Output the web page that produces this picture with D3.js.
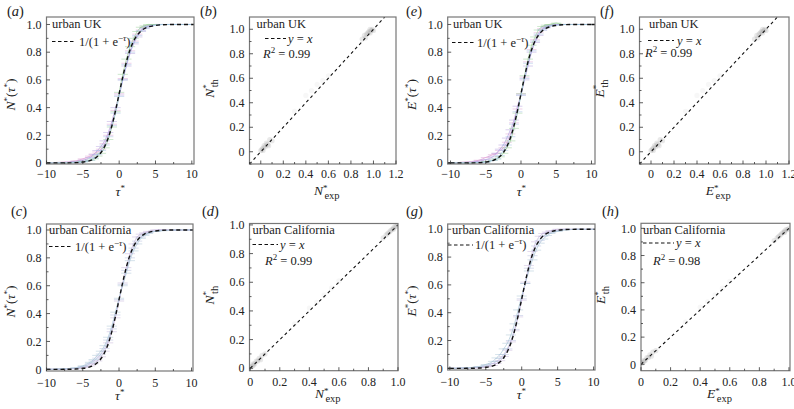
<!DOCTYPE html>
<html><head><meta charset="utf-8">
<script src="https://cdn.jsdelivr.net/npm/d3@7"></script>
<style>body{margin:0;background:#fff}svg{display:block}</style>
</head><body><svg id="c" width="794" height="409"></svg>
<script>
// ---------- data ----------
const tauGrid = [-10,-8,-6,-5,-4,-3.5,-3,-2.5,-2,-1.5,-1,-0.5,0,0.5,1,1.5,2,2.5,3,3.5,4,5,6,8,10];
const logisticVals = [0.000,0.000,0.002,0.007,0.018,0.029,0.047,0.076,0.119,0.182,0.269,0.378,0.500,0.622,0.731,0.818,0.881,0.924,0.953,0.971,0.982,0.993,0.998,1.000,1.000];

const ukN_pink   = [0.00,0.005,0.015,0.03,0.05,0.065,0.08,0.10,0.14,0.20,0.28,0.38,0.50,0.61,0.72,0.81,0.88,0.93,0.96,0.98,0.99,1.00,1.00,1.00,1.00];
const ukN_purple = [0.00,0.003,0.01,0.02,0.04,0.06,0.09,0.12,0.16,0.22,0.30,0.40,0.49,0.60,0.70,0.79,0.86,0.91,0.95,0.975,0.99,1.00,1.00,1.00,1.00];
const ukN_green  = [0.00,0.00,0.005,0.01,0.02,0.03,0.05,0.07,0.11,0.17,0.26,0.37,0.51,0.64,0.75,0.84,0.90,0.95,0.98,0.99,1.00,1.00,1.00,1.00,1.00];
const ukN_blue   = [0.00,0.00,0.003,0.008,0.02,0.035,0.06,0.09,0.13,0.19,0.27,0.36,0.48,0.60,0.71,0.80,0.87,0.92,0.955,0.97,0.985,0.995,1.00,1.00,1.00];

const ukE_pink   = [0.00,0.006,0.02,0.04,0.06,0.07,0.09,0.11,0.15,0.21,0.29,0.39,0.50,0.62,0.73,0.82,0.89,0.94,0.97,0.985,0.995,1.00,1.00,1.00,1.00];
const ukE_purple = [0.00,0.004,0.012,0.025,0.045,0.07,0.10,0.13,0.18,0.24,0.31,0.41,0.49,0.60,0.70,0.80,0.87,0.92,0.96,0.98,0.99,1.00,1.00,1.00,1.00];
const ukE_green  = [0.00,0.00,0.004,0.01,0.02,0.03,0.045,0.07,0.11,0.16,0.25,0.36,0.50,0.63,0.75,0.85,0.91,0.96,0.985,0.995,1.00,1.01,1.00,1.00,1.00];
const ukE_blue   = [0.00,0.00,0.003,0.007,0.018,0.03,0.055,0.09,0.13,0.19,0.28,0.37,0.49,0.61,0.72,0.81,0.88,0.93,0.96,0.975,0.99,0.995,1.00,1.00,1.00];

const caN_a = [0.00,0.002,0.008,0.02,0.04,0.06,0.08,0.11,0.15,0.21,0.29,0.39,0.50,0.61,0.71,0.80,0.87,0.92,0.95,0.97,0.98,0.99,1.00,1.00,1.00];
const caN_b = [0.00,0.001,0.005,0.012,0.025,0.04,0.06,0.09,0.13,0.19,0.27,0.37,0.49,0.62,0.73,0.83,0.90,0.95,0.97,0.98,0.99,1.00,1.00,1.00,1.00];
const caN_c = [0.00,0.003,0.01,0.025,0.05,0.07,0.10,0.13,0.17,0.23,0.31,0.41,0.51,0.60,0.69,0.78,0.85,0.90,0.94,0.96,0.975,0.99,0.995,1.00,1.00];

const caE_a = [0.00,0.002,0.008,0.018,0.035,0.05,0.07,0.10,0.14,0.20,0.28,0.38,0.50,0.61,0.72,0.81,0.88,0.92,0.95,0.97,0.98,0.99,1.00,1.00,1.00];
const caE_b = [0.00,0.001,0.004,0.01,0.02,0.035,0.055,0.085,0.13,0.19,0.27,0.37,0.49,0.62,0.74,0.84,0.91,0.95,0.97,0.98,0.99,1.00,1.00,1.00,1.00];
const caE_c = [0.00,0.003,0.012,0.028,0.05,0.075,0.10,0.14,0.18,0.24,0.32,0.42,0.52,0.61,0.70,0.78,0.85,0.90,0.93,0.955,0.97,0.985,0.995,1.00,1.00];

const scatExp = [0.00,0.01,0.02,0.02,0.03,0.04,0.05,0.06,0.07,0.08,0.10,0.30,0.40,0.45,0.50,0.55,0.60,0.90,0.92,0.93,0.94,0.95,0.96,0.97,0.97,0.98,0.99,1.00];
const scatThUK = [0.01,0.02,0.01,0.03,0.05,0.04,0.07,0.06,0.05,0.10,0.09,0.33,0.46,0.50,0.55,0.58,0.62,0.92,0.95,0.93,0.96,0.97,0.98,0.97,1.00,0.99,1.00,0.99];
const scatThCA = [0.01,0.01,0.02,0.03,0.03,0.05,0.05,0.07,0.06,0.09,0.10,0.31,0.42,0.46,0.51,0.56,0.61,0.91,0.93,0.94,0.95,0.96,0.97,0.98,0.97,0.99,0.99,1.00];

const curveTicks = [-10,-5,0,5,10];
const unitTicks = [0,0.2,0.4,0.6,0.8,1.0];
const wideTicks = [0,0.2,0.4,0.6,0.8,1.0,1.2];

const colPink="#e0a0d4", colPurple="#b4a0e0", colGreen="#98d098", colBlue="#a0c0e6", colCA1="#b4bce0", colCA2="#c6b4dc", colCA3="#a8c4d6";

// ---------- panels ----------
const panels = [
 {id:"a",type:"curve",box:[46.5,194,17,164],xd:[-10,10.3],yd:[-0.007,1.054],letter:[7,16],sym:"N",region:"urban UK",
  series:[[ukN_pink,colPink],[ukN_purple,colPurple],[ukN_green,colGreen],[ukN_blue,colBlue]],leg:{x:52,y:28,ly:41.5,l1:52,l2:75,tx:79}},
 {id:"b",type:"scatter",box:[249.5,396,17,164],xd:[-0.1,1.2],yd:[-0.1,1.1],xt:wideTicks,diag:[-0.1,1.1],letter:[200,16],sym:"N",region:"urban UK",th:scatThUK,r2:"0.99",
  leg:{x:256.5,y:28,ly:38.5,l1:265,l2:286,tx:288,rx:263,ry:58}},
 {id:"c",type:"curve",box:[46.5,193,224,371],xd:[-10,10.2],yd:[-0.012,1.043],letter:[11,216],sym:"N",region:"urban California",
  series:[[caN_a,colCA1],[caN_b,colCA2],[caN_c,colCA3]],leg:{x:49,y:234,ly:246.5,l1:49,l2:72,tx:75}},
 {id:"d",type:"scatter",box:[249.5,398,223.5,370.7],xd:[-0.005,1.0],yd:[-0.017,1.01],xt:unitTicks,diag:[0,1],letter:[202,216],sym:"N",region:"urban California",th:scatThCA,r2:"0.99",
  leg:{x:252.5,y:234,ly:244.5,l1:252.5,l2:278,tx:280,rx:265,ry:265}},
 {id:"e",type:"curve",box:[447.7,595,17,164],xd:[-10.4,10.5],yd:[-0.007,1.054],letter:[406,16],sym:"E",region:"urban UK",
  series:[[ukE_pink,colPink],[ukE_purple,colPurple],[ukE_green,colGreen],[ukE_blue,colBlue]],leg:{x:453,y:28,ly:42.5,l1:452,l2:474,tx:477}},
 {id:"f",type:"scatter",box:[639.5,789,17,164],xd:[-0.1,1.2],yd:[-0.1,1.1],xt:wideTicks,diag:[-0.1,1.1],letter:[600,16],sym:"E",region:"urban UK",th:scatThUK,r2:"0.99",
  leg:{x:649,y:28,ly:40.5,l1:648,l2:674,tx:677,rx:645,ry:57}},
 {id:"g",type:"curve",box:[447.7,595,224,370],xd:[-10.3,10.2],yd:[-0.012,1.038],letter:[406,216],sym:"E",region:"urban California",
  series:[[caE_a,colCA1],[caE_b,colCA2],[caE_c,colCA3]],leg:{x:452,y:234,ly:245,l1:448,l2:473,tx:475}},
 {id:"h",type:"scatter",box:[641,790,223.3,370.7],xd:[0,1.007],yd:[-0.047,1.037],xt:unitTicks,diag:[0,1],letter:[602,216],sym:"E",region:"urban California",th:scatThCA,r2:"0.98",
  leg:{x:643,y:234,ly:243,l1:643,l2:674,tx:676,rx:653,ry:265}}
];

const svg = d3.select("#c");
const fmtY = d => d===0 ? "0" : d3.format(".1f")(d);
const fmtX = d => d3.format("d")(d);
const FS = 12;

function symLabel(g, x, y, sym, kind, rotate) {
  const t = g.append("text").attr("font-size",13.5)
    .attr("transform", rotate ? `translate(${x},${y}) rotate(-90)` : `translate(${x},${y})`)
    .attr("text-anchor","middle");
  t.append("tspan").attr("font-style","italic").text(sym);
  if (kind==="tau") {
    t.append("tspan").attr("font-size",9).attr("dy",-5).text("*");
    t.append("tspan").attr("dy",5).text("(");
    t.append("tspan").attr("font-style","italic").text("τ");
    t.append("tspan").attr("font-size",9).attr("dy",-5).text("*");
    t.append("tspan").attr("dy",5).text(")");
  } else {
    t.append("tspan").attr("font-size",9).attr("dy",-4.5).text("*");
    t.append("tspan").attr("font-size",10.5).attr("dx",-3).attr("dy",8.5).text(kind);
  }
}

panels.forEach(p => {
  const [x0,x1,y0,y1] = p.box;
  const top = y0 < 100;
  const xs = d3.scaleLinear().domain(p.xd).range([x0,x1]);
  const ys = d3.scaleLinear().domain(p.yd).range([y1,y0]);
  const g = svg.append("g");
  const clipId = "clip"+p.id;
  g.append("clipPath").attr("id",clipId).append("rect").attr("x",x0).attr("y",y0).attr("width",x1-x0).attr("height",y1-y0);
  const plot = g.append("g").attr("clip-path",`url(#${clipId})`);

  if (p.type==="curve") {
    const line = d3.line().x((d,i)=>xs(tauGrid[i])).y(d=>ys(d)).curve(d3.curveMonotoneX);
    p.series.forEach(([vals,col]) => {
      plot.append("path").attr("d",line(vals)).attr("fill","none").attr("stroke",col).attr("stroke-width",0.9).attr("opacity",0.8);
      plot.selectAll(null).data(vals).enter().append("line")
        .attr("x1",(d,i)=>xs(tauGrid[i]-0.7)).attr("x2",(d,i)=>xs(tauGrid[i]+0.7))
        .attr("y1",d=>ys(d)).attr("y2",d=>ys(d)).attr("stroke",col).attr("stroke-width",0.8).attr("opacity",0.6);
    });
    const logi = d3.line().x((d,i)=>xs(tauGrid[i])).y(d=>ys(d)).curve(d3.curveMonotoneX);
    const dash = {stroke:"#111","stroke-width":1.4,"stroke-dasharray":"4,3"};
    const pth = plot.append("path").attr("d",logi(logisticVals)).attr("fill","none");
    const l1 = plot.append("line").attr("x1",x0).attr("x2",xs(-10)).attr("y1",ys(0)).attr("y2",ys(0));
    const l2 = plot.append("line").attr("x1",xs(10)).attr("x2",x1).attr("y1",ys(1)).attr("y2",ys(1));
    [pth,l1,l2].forEach(s=>Object.entries(dash).forEach(([k,v])=>s.attr(k,v)));
  } else {
    plot.selectAll(null).data(scatExp).enter().append("circle")
      .attr("cx",d=>xs(d)).attr("cy",(d,i)=>ys(p.th[i])).attr("r",2.6)
      .attr("fill","#9a9a9a").attr("opacity",(d)=> (d>0.2&&d<0.8)?0.08:0.22);
    plot.append("line").attr("x1",xs(p.diag[0])).attr("y1",ys(p.diag[0])).attr("x2",xs(p.diag[1])).attr("y2",ys(p.diag[1]))
      .attr("stroke","#111").attr("stroke-width",1.1).attr("stroke-dasharray","3,3");
  }

  g.append("rect").attr("x",x0).attr("y",y0).attr("width",x1-x0).attr("height",y1-y0).attr("fill","none").attr("stroke","#777").attr("stroke-width",1.2);

  const xt = p.type==="curve" ? curveTicks : p.xt;
  const xMinor = p.type==="curve" ? d3.range(-10,10.5,2.5).filter(v=>v%5!==0) : d3.range(-0.1,1.25,0.1).filter(v=>Math.abs(Math.round(v*5)-v*5)>0.1);
  const yMinor = d3.range(0.1,1.05,0.2).concat(p.yd[0]<-0.05?[-0.1]:[]);
  const tickG = g.append("g").attr("stroke","#333").attr("stroke-width",0.8);
  xt.forEach(v=>{ tickG.append("line").attr("x1",xs(v)).attr("x2",xs(v)).attr("y1",y1).attr("y2",y1-3.5); });
  xMinor.forEach(v=>{ if(v>=p.xd[0]&&v<=p.xd[1]) tickG.append("line").attr("x1",xs(v)).attr("x2",xs(v)).attr("y1",y1).attr("y2",y1-2); });
  unitTicks.forEach(v=>{ tickG.append("line").attr("x1",x0).attr("x2",x0+3.5).attr("y1",ys(v)).attr("y2",ys(v)); });
  yMinor.forEach(v=>{ tickG.append("line").attr("x1",x0).attr("x2",x0+2).attr("y1",ys(v)).attr("y2",ys(v)); });

  const tkOff = top ? 14 : 15.5;
  g.selectAll(null).data(xt).enter().append("text").attr("font-size",FS).attr("text-anchor","middle")
    .attr("x",d=>xs(d)).attr("y",y1+tkOff).text(p.type==="curve"?fmtX:fmtY);
  g.selectAll(null).data(unitTicks).enter().append("text").attr("font-size",FS).attr("text-anchor","end")
    .attr("x",x0-5).attr("y",d=>ys(d)).attr("dy","0.35em").text(fmtY);

  const lt = g.append("text").attr("font-size",14.5).attr("x",p.letter[0]).attr("y",p.letter[1]);
  lt.append("tspan").text("(");
  lt.append("tspan").attr("font-style","italic").text(p.id);
  lt.append("tspan").text(")");

  const cx = (x0+x1)/2;
  const xlOff = top ? 32 : 28.5;
  if (p.type==="curve") {
    const xl = g.append("text").attr("font-size",13.5).attr("text-anchor","middle").attr("x",cx).attr("y",y1+xlOff);
    xl.append("tspan").attr("font-style","italic").text("τ");
    xl.append("tspan").attr("font-size",9).attr("dy",-5).text("*");
    symLabel(g, x0-32, (y0+y1)/2+4, p.sym, "tau", true);
  } else {
    symLabel(g, cx+4, y1+xlOff-1, p.sym, "exp", false);
    symLabel(g, x0-36, (y0+y1)/2-2, p.sym, "th", true);
  }

  const L = p.leg;
  g.append("text").attr("font-size",12.5).attr("x",L.x).attr("y",L.y).text(p.region);
  g.append("line").attr("x1",L.l1).attr("x2",L.l2).attr("y1",L.ly).attr("y2",L.ly).attr("stroke","#111").attr("stroke-width",1.2).attr("stroke-dasharray","3.5,2.5");
  if (p.type==="curve") {
    const t = g.append("text").attr("font-size",12.5).attr("x",L.tx).attr("y",L.ly+4);
    t.append("tspan").text("1/(1 + e");
    t.append("tspan").attr("font-size",9).attr("dy",-5).text("−");
    t.append("tspan").attr("font-size",9).attr("font-style","italic").text("τ");
    t.append("tspan").attr("dy",5).text(")");
  } else {
    const t = g.append("text").attr("font-size",12.5).attr("x",L.tx).attr("y",L.ly+4);
    t.append("tspan").attr("font-style","italic").text("y");
    t.append("tspan").text(" = ");
    t.append("tspan").attr("font-style","italic").text("x");
    const r = g.append("text").attr("font-size",12.5).attr("x",L.rx).attr("y",L.ry);
    r.append("tspan").attr("font-style","italic").text("R");
    r.append("tspan").attr("font-size",9).attr("dy",-5).text("2");
    r.append("tspan").attr("dy",5).text(" = "+p.r2);
  }
});
svg.selectAll("text").attr("font-family","Liberation Serif").attr("fill","#222");
</script></body></html>
